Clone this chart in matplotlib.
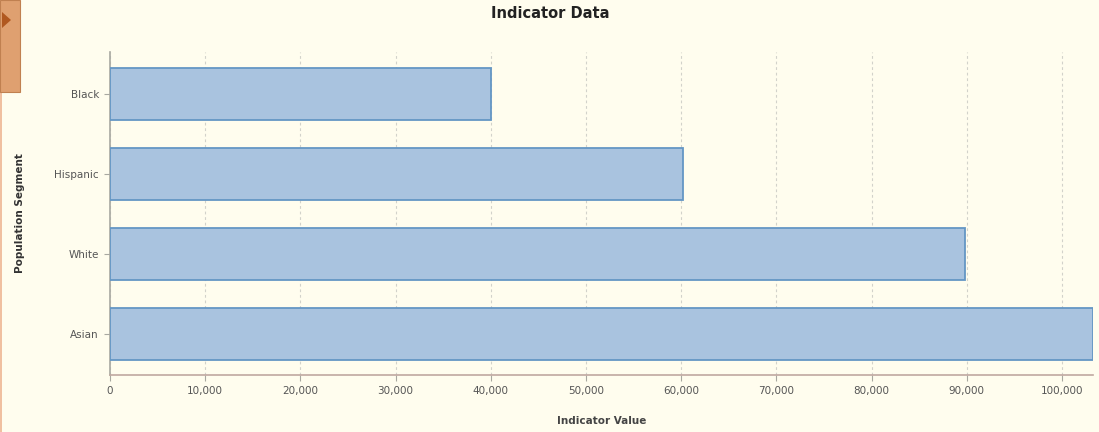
import matplotlib
matplotlib.use("Agg")
import matplotlib.pyplot as plt
from matplotlib.patches import Rectangle, Polygon
from matplotlib.ticker import FuncFormatter, MultipleLocator

categories = ["Asian", "White", "Hispanic", "Black"]
values = [103200, 89800, 60200, 40000]
title = "Indicator Data"
xlabel = "Indicator Value"
ylabel = "Population Segment"

bg = "#fffdee"
fig = plt.figure(figsize=(10.99, 4.32), dpi=100, facecolor=bg)
ax = fig.add_axes([110/1099, (432-375)/432, (1093-110)/1099, (375-52)/432])
ax.set_facecolor(bg)

ypos = list(range(len(categories)))
ax.barh(ypos, values, height=0.65, color="#a9c3df", edgecolor="#6496c4",
        linewidth=1.3, zorder=3)
ax.set_yticks(ypos)
ax.set_yticklabels(categories)
ax.set_ylim(-0.5125, 3.525)
ax.set_xlim(0, 103250)
ax.xaxis.set_major_locator(MultipleLocator(10000))
ax.xaxis.set_major_formatter(FuncFormatter(lambda v, p: f"{int(v):,}"))

ax.grid(axis="x", color="#d2d2ca", linestyle=(0, (2.5, 2.5)), linewidth=0.8, zorder=0)
for s in ["top", "right"]:
    ax.spines[s].set_visible(False)
ax.spines["left"].set_color("#a8a8a0")
ax.spines["left"].set_linewidth(1.2)
ax.spines["bottom"].set_color("#c0a8a0")
ax.spines["bottom"].set_linewidth(1.2)
ax.tick_params(axis="both", labelsize=7.5, colors="#555555", length=4,
               width=0.8, pad=4)
ax.tick_params(axis="x", color="#a8a8a0")
ax.tick_params(axis="y", color="#a8a8a0")

ax.set_xlabel(xlabel, fontsize=7.5, fontweight="bold", color="#444444", labelpad=14)
fig.text(20/1099, 1 - 213/432, ylabel, rotation=90, fontsize=7.5,
         fontweight="bold", color="#333333", ha="center", va="center")
fig.text(550/1099, 1 - 14/432, title, fontsize=10.5, fontweight="bold",
         color="#222222", ha="center", va="center")

# left UI tab
fig.patches.append(Rectangle((0, 0), 2/1099, 1, transform=fig.transFigure,
                             facecolor="#f0c0a0", edgecolor="none"))
fig.patches.append(Rectangle((0, 1 - 92/432), 20/1099, 92/432,
                             transform=fig.transFigure, facecolor="#dfa070",
                             edgecolor="#c08050", linewidth=0.8))
fig.patches.append(Polygon([(2/1099, 1 - 12/432), (2/1099, 1 - 28/432),
                            (11/1099, 1 - 20/432)], closed=True,
                           transform=fig.transFigure, facecolor="#b05820",
                           edgecolor="none"))

fig.savefig("out.png", dpi=100, facecolor=bg)
